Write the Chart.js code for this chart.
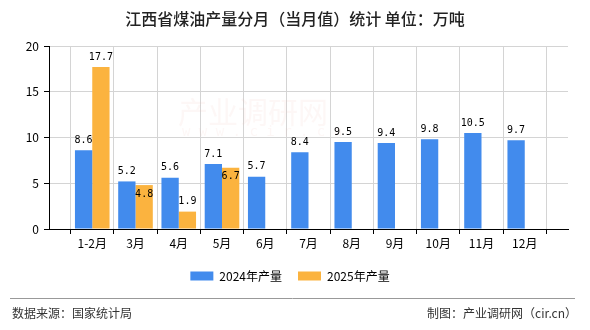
<!DOCTYPE html>
<html>
<head>
<meta charset="utf-8">
<script src="https://cdn.jsdelivr.net/npm/chart.js@4.4.1/dist/chart.umd.min.js"></script>
<style>
  body { margin: 0; background: #fff; }
  canvas { display: block; }
</style>
</head>
<body>
<canvas id="grafico" width="590" height="330"></canvas>
<script>
// dados
const categorias = ['1-2月', '3月', '4月', '5月', '6月', '7月', '8月', '9月', '10月', '11月', '12月'];
const producao2024 = [8.6, 5.2, 5.6, 7.1, 5.7, 8.4, 9.5, 9.4, 9.8, 10.5, 9.7];
const producao2025 = [17.7, 4.8, 1.9, 6.7, null, null, null, null, null, null, null];
const nomesSeries = ['2024年产量', '2025年产量'];
const yMin = 0, yMax = 20, yPasso = 5;

const titulo = '江西省煤油产量分月（当月值）统计 单位：万吨';
const fonteDados = '数据来源：国家统计局';
const autoria = '制图：产业调研网（cir.cn）';

const CJK = '"Noto Sans CJK SC", "DejaVu Sans", sans-serif';

// eixo com uma casa vazia em cada ponta (como no original)
const rotulos = ['', ...categorias, ''];
const pad = arr => [null, ...arr, null];

const rotulosValores = {
    id: 'rotulosValores',
    afterDatasetsDraw(chart) {
        const ctx = chart.ctx;
        ctx.save();
        ctx.font = '10px "DejaVu Sans Mono", monospace';
        ctx.fillStyle = '#000';
        ctx.textAlign = 'center';
        const d0 = chart.data.datasets[0].data;
        chart.data.datasets.forEach((ds, i) => {
            const meta = chart.getDatasetMeta(i);
            meta.data.forEach((bar, j) => {
                const v = ds.data[j];
                if (v === null || v === undefined) return;
                // 2025 perto do valor de 2024 -> rótulo dentro da barra
                const dentro = i === 1 && d0[j] !== null && Math.abs(d0[j] - v) < 1;
                if (dentro) {
                    ctx.textBaseline = 'top';
                    ctx.fillText(v.toFixed(1), bar.x, bar.y + 4);
                } else {
                    ctx.textBaseline = 'bottom';
                    ctx.fillText(v.toFixed(1), bar.x, bar.y - 5);
                }
            });
        });
        ctx.restore();
    }
};

const decoracao = {
    id: 'decoracao',
    beforeDatasetsDraw(chart) {
        const ctx = chart.ctx;
        ctx.save();
        ctx.fillStyle = 'rgba(235, 190, 185, 0.12)';
        ctx.font = '30px ' + CJK;
        ctx.textAlign = 'left';
        ctx.textBaseline = 'middle';
        ctx.fillText('产业调研网', 178, 112);
        ctx.font = '14px "DejaVu Sans Mono", monospace';
        ctx.fillText('w w w . c i r . c n', 182, 132);
        ctx.restore();
    },
    afterDraw(chart) {
        const ctx = chart.ctx;
        ctx.save();
        ctx.fillStyle = '#222';
        ctx.font = '500 16px ' + CJK;
        ctx.textAlign = 'center';
        ctx.textBaseline = 'middle';
        ctx.fillText(titulo, 295, 19);

        ctx.strokeStyle = '#999';
        ctx.lineWidth = 1;
        ctx.beginPath();
        ctx.moveTo(10, 298.5);
        ctx.lineTo(575, 298.5);
        ctx.stroke();

        ctx.fillStyle = '#333';
        ctx.font = '12px ' + CJK;
        ctx.textAlign = 'left';
        ctx.fillText(fonteDados, 12, 313);
        ctx.textAlign = 'right';
        ctx.fillText(autoria, 577, 313);
        ctx.restore();
    }
};

const ctx = document.getElementById('grafico').getContext('2d');
window.chart = new Chart(ctx, {
    type: 'bar',
    data: {
        labels: rotulos,
        datasets: [
            { label: nomesSeries[0], data: pad(producao2024), backgroundColor: '#428bed' },
            { label: nomesSeries[1], data: pad(producao2025), backgroundColor: '#fbb33f' }
        ]
    },
    options: {
        responsive: false,
        animation: false,
        layout: { padding: { left: 12, right: 22, top: 46, bottom: 38 } },
        datasets: { bar: { categoryPercentage: 0.8, barPercentage: 1.0 } },
        scales: {
            x: {
                offset: false,
                grid: { color: '#d4d4d4', tickColor: '#000', tickLength: 5 },
                border: { color: '#000' },
                ticks: { color: '#000', font: { size: 12, family: CJK }, padding: 2, maxRotation: 0, autoSkip: false },
                afterFit(scale) { scale.height = 25; }
            },
            y: {
                min: yMin, max: yMax,
                grid: { color: '#d4d4d4', tickColor: '#000', tickLength: 5 },
                border: { color: '#000' },
                ticks: { stepSize: yPasso, color: '#000', font: { size: 12, family: CJK }, padding: 5 },
                afterFit(scale) { scale.width = 37; }
            }
        },
        plugins: {
            title: { display: false },
            tooltip: { enabled: false },
            legend: {
                position: 'bottom',
                labels: {
                    boxWidth: 23, boxHeight: 9, padding: 16,
                    color: '#000', font: { size: 12, family: CJK }
                }
            }
        }
    },
    plugins: [decoracao, rotulosValores]
});
</script>
</body>
</html>
